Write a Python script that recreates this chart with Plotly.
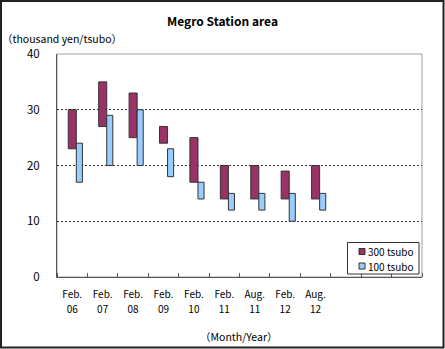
import plotly.graph_objects as go

# Survey periods (9 used out of 12 slots on the axis)
months = ["Feb.", "Feb.", "Feb.", "Feb.", "Feb.", "Feb.", "Aug.", "Feb.", "Aug."]
years = ["06", "07", "08", "09", "10", "11", "11", "12", "12"]
n_slots = 12

# Rent ranges, thousand yen per tsubo
high_300 = [30, 35, 33, 27, 25, 20, 20, 19, 20]
low_300 = [23, 27, 25, 24, 17, 14, 14, 14, 14]
high_100 = [24, 29, 30, 23, 17, 15, 15, 15, 15]
low_100 = [17, 20, 20, 18, 14, 12, 12, 10, 12]

series_names = ["300 tsubo", "100 tsubo"]
series_colors = ["#993366", "#99CCFF"]

y_ticks = [0, 10, 20, 30, 40]

FONT = "Noto Sans CJK JP, Liberation Sans, Arial, sans-serif"
W, H = 445, 349
L, R, T, B = 57, 23, 54, 72
PW, PH = W - L - R, H - T - B

centers = [i + 0.5 for i in range(len(months))]

fig = go.Figure()
fig.add_trace(go.Bar(
    x=centers, y=[h - l for h, l in zip(high_300, low_300)], base=low_300,
    offset=-0.13, width=0.265, name=series_names[0],
    marker=dict(color=series_colors[0], line=dict(color="#333333", width=1)),
))
# second series sits on the overlaid axis that carries the year labels
fig.add_trace(go.Bar(
    x=centers, y=[h - l for h, l in zip(high_100, low_100)], base=low_100,
    offset=0.135, width=0.2, name=series_names[1], xaxis="x2",
    marker=dict(color=series_colors[1], line=dict(color="#333333", width=1)),
))


def px_x(px):
    return (px - L) / PW


def px_y(py):
    return (H - B - py) / PH


shapes = [
    # plot-area frame (top and right edges show in grey)
    dict(type="rect", xref="paper", yref="paper", x0=0, x1=1, y0=0, y1=1,
         line=dict(color="#A0A0A0", width=1), layer="below"),
    # chart border
    dict(type="rect", xref="paper", yref="paper",
         x0=px_x(1), x1=px_x(443.5), y0=px_y(347.5), y1=px_y(1),
         line=dict(color="#222222", width=2)),
    # legend box
    dict(type="rect", xref="paper", yref="paper",
         x0=px_x(347.5), x1=px_x(419), y0=px_y(274), y1=px_y(242.5),
         fillcolor="white", line=dict(color="#333333", width=1), layer="above"),
]

annotations = [
    dict(text="（thousand yen/tsubo）", xref="paper", yref="paper",
         x=px_x(0), y=px_y(38), xanchor="left", yanchor="middle",
         showarrow=False, font=dict(size=10.5)),
    dict(text="（Month/Year）", xref="paper", yref="paper",
         x=px_x(238), y=px_y(336), xanchor="center", yanchor="middle",
         showarrow=False, font=dict(size=10.5)),
]

# legend entries: small swatch + label
for k, (name, color) in enumerate(zip(series_names, series_colors)):
    cy = 251.5 + 14.5 * k
    shapes.append(dict(type="rect", xref="paper", yref="paper",
                       x0=px_x(359), x1=px_x(365), y0=px_y(cy + 3), y1=px_y(cy - 3),
                       fillcolor=color, line=dict(color="#333333", width=1),
                       layer="above"))
    annotations.append(dict(text=name, xref="paper", yref="paper",
                            x=px_x(365.5), y=px_y(cy), xanchor="left",
                            yanchor="middle", showarrow=False,
                            font=dict(size=10)))

fig.update_layout(
    width=W, height=H,
    margin=dict(l=L, r=R, t=T, b=B),
    paper_bgcolor="white", plot_bgcolor="white",
    font=dict(family=FONT, size=11, color="#000000"),
    barmode="overlay",
    showlegend=False,
    title=dict(text="<b>Megro Station area</b>", x=0.5, xanchor="center",
               y=1 - 22 / H, yanchor="middle", font=dict(size=12, family=FONT)),
    # month line of the category labels, plus slot tick marks
    xaxis=dict(range=[0, n_slots], tickmode="array", tickvals=centers,
               ticktext=months, ticks="", showgrid=False, zeroline=False,
               showline=True, linecolor="#555555", linewidth=1,
               tickfont=dict(size=10), ticklabelstandoff=8, fixedrange=True,
               minor=dict(tickmode="array", tickvals=list(range(n_slots + 1)),
                          ticks="inside", ticklen=4, tickcolor="#555555",
                          showgrid=False)),
    # year line of the category labels
    xaxis2=dict(range=[0, n_slots], overlaying="x", side="bottom",
                anchor="y", tickmode="array", tickvals=centers,
                ticktext=years, ticks="", showgrid=False, zeroline=False,
                showline=False, tickfont=dict(size=10),
                ticklabelstandoff=25, fixedrange=True),
    yaxis=dict(range=[0, 40], tickvals=y_ticks, showgrid=True,
               gridcolor="#333333", griddash="2px,2px", gridwidth=1,
               zeroline=False, showline=True, linecolor="#555555", linewidth=1,
               ticks="", ticklabelstandoff=14, tickfont=dict(size=11.5),
               fixedrange=True),
    shapes=shapes,
    annotations=annotations,
)

fig.write_html("out.html")
